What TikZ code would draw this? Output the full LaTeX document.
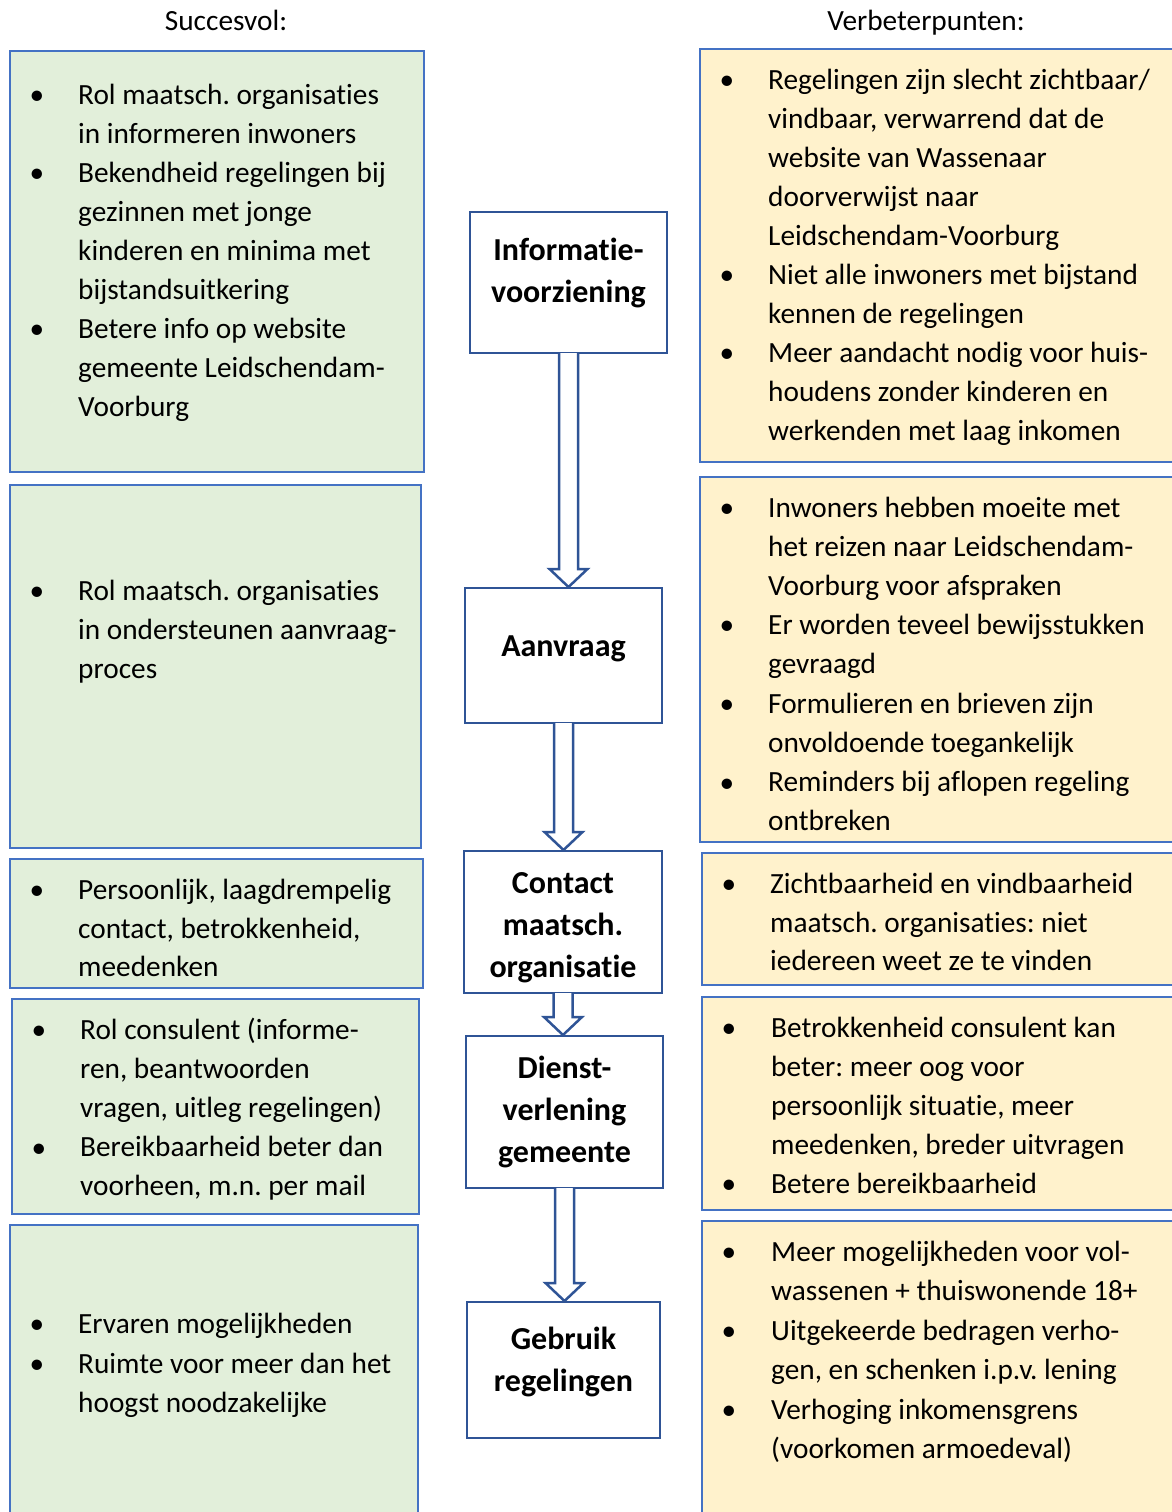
\documentclass[tikz,border=0pt]{standalone}
\usepackage{fontspec}
\setmainfont{Carlito}[Ligatures={NoCommon}]
\usetikzlibrary{calc}
\frenchspacing
\definecolor{gfill}{HTML}{E2EFDA}
\definecolor{yfill}{HTML}{FFF2CC}
\definecolor{sborder}{HTML}{4472C4}
\definecolor{cborder}{HTML}{2F5496}
\tikzset{
  txt/.style={anchor=base west, inner sep=0pt, yshift=1.5pt, font=\fontsize{29.3}{38.7}\selectfont},
  hdr/.style={anchor=base, inner sep=0pt, font=\fontsize{29.3}{38.7}\selectfont},
  bul/.style={anchor=base, inner sep=0pt, yshift=1.5pt, font=\fontsize{29.3}{38.7}\selectfont},
  ctxt/.style={anchor=base, inner sep=0pt, font=\bfseries\fontsize{32}{42}\selectfont},
  gbox/.style={draw=sborder, fill=gfill, line width=1.3pt, anchor=north west, inner sep=0pt, outer sep=0pt},
  ybox/.style={draw=sborder, fill=yfill, line width=1.3pt, anchor=north west, inner sep=0pt, outer sep=0pt},
  cbox/.style={draw=cborder, fill=white, line width=2.5pt, anchor=north west, inner sep=0pt, outer sep=0pt},
  blockarrow/.style={draw=cborder, fill=white, line width=2.5pt, line join=miter},
}
\newcommand\mkbox[6]{\node[#2, minimum width={#5pt-#3pt}, minimum height={#6pt-#4pt}] (#1) at (#3,#4) {};}
\newcommand\txtlines[5]{\foreach \t [count=\i] in {#5} {\node[txt] (#1-\i) at (#2,{#3+(\i-1)*#4}) {\t};}}
\newcommand\bul[3]{\node[bul] (#1) at (#2,#3) {•};}
\newcommand\barrow[2]{%
  \draw[blockarrow] ($(#1.south)+(-9.5,0)$) -- ($(#1.south |- #2.north)+(-9.5,-19)$)
    -- ($(#1.south |- #2.north)+(-19,-19)$) -- ($(#1.south |- #2.north)+(0,-1)$)
    -- ($(#1.south |- #2.north)+(19,-19)$) -- ($(#1.south |- #2.north)+(9.5,-19)$)
    -- ($(#1.south)+(9.5,0)$);}
\begin{document}
\begin{tikzpicture}[x=1pt,y=-1pt]
\useasboundingbox (0,0) rectangle (1172,1512);
% headers
\node[hdr] (h1) at (226,31) {Succesvol:};
\node[hdr] (h2) at (926,31) {Verbeterpunten:};
% side boxes
\mkbox{L1}{gbox}{10}{51}{424}{472}
\mkbox{L2}{gbox}{10}{485}{421}{848}
\mkbox{L3}{gbox}{10}{859}{423}{988}
\mkbox{L4}{gbox}{12}{999}{419}{1214}
\mkbox{L5}{gbox}{10}{1225}{418}{1530}
\mkbox{R1}{ybox}{700}{49}{1190}{462}
\mkbox{R2}{ybox}{700}{477}{1190}{842}
\mkbox{R3}{ybox}{702}{853}{1190}{985}
\mkbox{R4}{ybox}{702}{997}{1190}{1210}
\mkbox{R5}{ybox}{702}{1221}{1190}{1530}
% central boxes
\mkbox{C1}{cbox}{470}{212}{667}{353}
\mkbox{C2}{cbox}{465}{588}{662}{723}
\mkbox{C3}{cbox}{464}{851}{662}{993}
\mkbox{C4}{cbox}{466}{1036}{663}{1188}
\mkbox{C5}{cbox}{467}{1302}{660}{1438}
% arrows
\barrow{C1}{C2}
\barrow{C2}{C3}
\barrow{C3}{C4}
\barrow{C4}{C5}
% central texts
\node[ctxt] (c1a) at (568.5,260) {Informatie-};
\node[ctxt] (c1b) at (568.5,302) {voorziening};
\node[ctxt] (c2a) at (563.5,656) {Aanvraag};
\node[ctxt] (c3a) at (563,893) {Contact};
\node[ctxt] (c3b) at (563,935) {maatsch.};
\node[ctxt] (c3c) at (563,977) {organisatie};
\node[ctxt] (c4a) at (564.5,1078) {Dienst-};
\node[ctxt] (c4b) at (564.5,1120) {verlening};
\node[ctxt] (c4c) at (564.5,1162) {gemeente};
\node[ctxt] (c5a) at (563.5,1349) {Gebruik};
\node[ctxt] (c5b) at (563.5,1391) {regelingen};
% left texts
\txtlines{l1}{78}{106}{39}{Rol maatsch. organisaties, in informeren inwoners, Bekendheid regelingen bij, gezinnen met jonge, kinderen en minima met, bijstandsuitkering, Betere info op website, gemeente Leidschendam-, Voorburg}
\bul{l1b1}{37}{106}\bul{l1b2}{37}{184}\bul{l1b3}{37}{340}
\txtlines{l2}{78}{602}{39}{Rol maatsch. organisaties, in ondersteunen aanvraag-, proces}
\bul{l2b1}{37}{602}
\txtlines{l3}{78}{901}{38.5}{{Persoonlijk, laagdrempelig}, {contact, betrokkenheid,}, meedenken}
\bul{l3b1}{37}{901}
\txtlines{l4}{80}{1041}{39}{Rol consulent (informe-, {ren, beantwoorden}, {vragen, uitleg regelingen)}, Bereikbaarheid beter dan, {voorheen, m.n. per mail}}
\bul{l4b1}{39}{1041}\bul{l4b2}{39}{1159}
\txtlines{l5}{78}{1335}{39.5}{Ervaren mogelijkheden, Ruimte voor meer dan het, hoogst noodzakelijke}
\bul{l5b1}{37}{1335}\bul{l5b2}{37}{1375}
% right texts
\txtlines{r1}{768}{91}{39}{{Regelingen zijn slecht zichtbaar/}, {vindbaar, verwarrend dat de}, website van Wassenaar, doorverwijst naar, Leidschendam-Voorburg, Niet alle inwoners met bijstand, kennen de regelingen, Meer aandacht nodig voor huis-, houdens zonder kinderen en, werkenden met laag inkomen}
\bul{r1b1}{727}{91}\bul{r1b2}{727}{286}\bul{r1b3}{727}{364}
\txtlines{r2}{768}{519}{39.1}{Inwoners hebben moeite met, het reizen naar Leidschendam-, Voorburg voor afspraken, Er worden teveel bewijsstukken, gevraagd, Formulieren en brieven zijn, onvoldoende toegankelijk, Reminders bij aflopen regeling, ontbreken}
\bul{r2b1}{727}{519}\bul{r2b2}{727}{636}\bul{r2b3}{727}{715}\bul{r2b4}{727}{794}
\txtlines{r3}{770}{895}{38.5}{Zichtbaarheid en vindbaarheid, {maatsch. organisaties: niet}, iedereen weet ze te vinden}
\bul{r3b1}{729}{895}
\txtlines{r4}{771}{1039}{39}{Betrokkenheid consulent kan, {beter: meer oog voor}, {persoonlijk situatie, meer}, {meedenken, breder uitvragen}, Betere bereikbaarheid}
\bul{r4b1}{729}{1039}\bul{r4b2}{729}{1195}
\txtlines{r5}{771}{1263}{39.4}{Meer mogelijkheden voor vol-, wassenen + thuiswonende 18+, Uitgekeerde bedragen verho-, {gen, en schenken i.p.v. lening}, Verhoging inkomensgrens, (voorkomen armoedeval)}
\bul{r5b1}{729}{1263}\bul{r5b2}{729}{1342}\bul{r5b3}{729}{1421}
\end{tikzpicture}
\end{document}
